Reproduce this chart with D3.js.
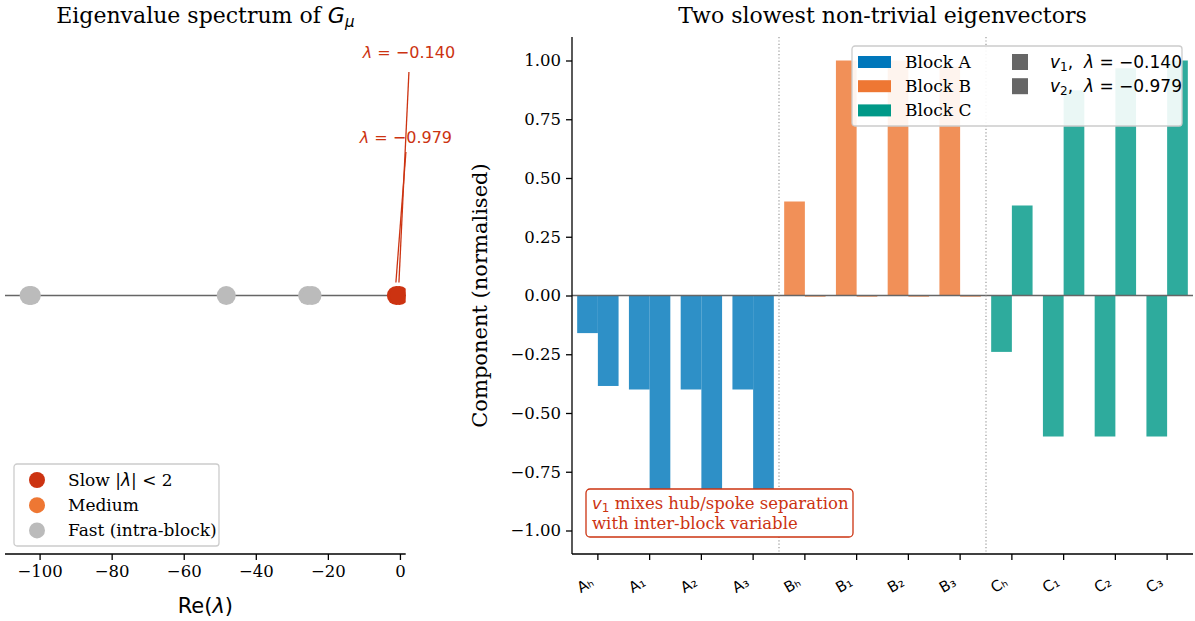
<!DOCTYPE html>
<html>
<head>
<meta charset="utf-8">
<script src="https://cdn.jsdelivr.net/npm/d3@7"></script>
<style>
  body { margin: 0; background: #fff; }
  svg { display: block; }
  .serif { font-family: "DejaVu Serif", serif; }
  .sans { font-family: "DejaVu Sans", sans-serif; }
</style>
</head>
<body>
<script>
// eigenvalues (real parts)
const fastEig = [-102.9, -102.3, -48.2, -25.6, -24.4];
const mediumEig = [];
const slowEig = [-0.979, -0.140];

// eigenvector components
const nodes = ["Aₕ", "A₁", "A₂", "A₃", "Bₕ", "B₁", "B₂", "B₃", "Cₕ", "C₁", "C₂", "C₃"];
const nodeBlock = ["A", "A", "A", "A", "B", "B", "B", "B", "C", "C", "C", "C"];
const v1 = [-0.16, -0.40, -0.40, -0.40, 0.40, 1.00, 1.00, 0.975, -0.24, -0.60, -0.60, -0.60];
const v2 = [-0.385, -0.87, -0.97, -1.00, -0.005, -0.005, -0.005, -0.005, 0.383, 0.873, 0.967, 1.00];
const blocks = ["A", "B", "C"];
const blockColors = ["#0077bb", "#ee7733", "#009988"];
const yTicks = [-1.00, -0.75, -0.50, -0.25, 0.00, 0.25, 0.50, 0.75, 1.00];
const xTicksL = [-100, -80, -60, -40, -20, 0];

const width = 1195;
const height = 621;
const minus = s => s.replace(/-/g, "\u2212");
const red = "#cc3311";
const tickFont = 16.5;
const legFont = 17;

const svg = d3.select("body").append("svg")
  .attr("width", width)
  .attr("height", height);

// ---------- left panel: spectrum ----------
const L = { left: 5, right: 405.7, top: 37, bottom: 554 };
const xL = d3.scaleLinear().domain([-109.6, 1.6]).range([L.left, L.right]);
const yL = d3.scaleLinear().domain([-1, 1]).range([L.bottom, L.top]);

svg.append("defs").append("clipPath").attr("id", "clipL")
  .append("rect")
  .attr("x", L.left).attr("y", L.top)
  .attr("width", L.right - L.left).attr("height", L.bottom - L.top);

svg.append("text").attr("class", "serif")
  .attr("x", (L.left + L.right) / 2).attr("y", 23)
  .attr("text-anchor", "middle").attr("font-size", 22)
  .html('Eigenvalue spectrum of <tspan font-family="DejaVu Sans" font-style="italic">G</tspan><tspan font-family="DejaVu Sans" font-style="italic" font-size="15" dy="4">μ</tspan>');

// baseline
svg.append("line")
  .attr("x1", L.left).attr("x2", L.right)
  .attr("y1", yL(0)).attr("y2", yL(0))
  .attr("stroke", "#666").attr("stroke-width", 1.3);

const gPts = svg.append("g").attr("clip-path", "url(#clipL)");
gPts.selectAll(".fast").data(fastEig).join("circle")
  .attr("cx", d => xL(d)).attr("cy", yL(0)).attr("r", 9.5)
  .attr("fill", "#bbbbbb");
gPts.selectAll(".med").data(mediumEig).join("circle")
  .attr("cx", d => xL(d)).attr("cy", yL(0)).attr("r", 9.5)
  .attr("fill", "#ee7733");
gPts.selectAll(".slow").data(slowEig).join("circle")
  .attr("cx", d => xL(d)).attr("cy", yL(0)).attr("r", 9.5)
  .attr("fill", red);

// annotations for slow modes
const annY = [143, 58];
slowEig.forEach((d, i) => {
  const tx = xL(d) + 9.5;
  const ty = annY[i];
  svg.append("line")
    .attr("x1", tx).attr("y1", ty + (i === 1 ? 14 : 9))
    .attr("x2", xL(d) - 0.5).attr("y2", yL(0) - 13)
    .attr("stroke", red).attr("stroke-width", 1.3);
  svg.append("text").attr("class", "sans")
    .attr("x", tx).attr("y", ty)
    .attr("text-anchor", "middle").attr("font-size", 16)
    .attr("fill", red)
    .html('<tspan font-style="italic">λ</tspan> = ' + minus(d.toFixed(3)));
});

// x axis
const axL = svg.append("g")
  .attr("transform", `translate(0,${L.bottom})`)
  .call(d3.axisBottom(xL).tickValues(xTicksL).tickSize(6).tickPadding(5)
    .tickFormat(d => minus(String(d))));
axL.select(".domain").attr("stroke", "#000").attr("stroke-width", 1.3).attr("d", `M${L.left},0H${L.right}`);
axL.selectAll(".tick line").attr("stroke-width", 1.3);
axL.selectAll(".tick text").attr("class", "serif").attr("font-size", tickFont).attr("fill", "#000");

svg.append("text").attr("class", "sans")
  .attr("x", (L.left + L.right) / 2).attr("y", 613)
  .attr("text-anchor", "middle").attr("font-size", 21)
  .html('Re(<tspan font-style="italic">λ</tspan>)');

// left legend
const legL = svg.append("g").attr("transform", "translate(14,464)");
legL.append("rect").attr("width", 205).attr("height", 82).attr("rx", 3)
  .attr("fill", "#fff").attr("fill-opacity", 0.9)
  .attr("stroke", "#cccccc").attr("stroke-width", 1.3);
const legLItems = [
  { c: red, t: 'Slow |<tspan font-family="DejaVu Sans" font-style="italic">λ</tspan>| &lt; 2' },
  { c: "#ee7733", t: "Medium" },
  { c: "#bbbbbb", t: "Fast (intra-block)" }
];
legLItems.forEach((d, i) => {
  const cy = 16 + i * 25.2;
  legL.append("circle").attr("cx", 23).attr("cy", cy).attr("r", 8).attr("fill", d.c);
  legL.append("text").attr("class", "serif")
    .attr("x", 54).attr("y", cy + 5.5).attr("font-size", legFont).html(d.t);
});

// ---------- right panel: eigenvectors ----------
const R = { left: 572, right: 1193, top: 37, bottom: 554 };
const xR = d3.scaleBand().domain(nodes).range([R.left, R.right]).padding(0);
const yR = d3.scaleLinear().domain([-1.1, 1.1]).range([R.bottom, R.top]);
const color = d3.scaleOrdinal().domain(blocks).range(blockColors);
const barW = xR.bandwidth() * 0.4;

svg.append("text").attr("class", "serif")
  .attr("x", (R.left + R.right) / 2).attr("y", 23)
  .attr("text-anchor", "middle").attr("font-size", 22)
  .text("Two slowest non-trivial eigenvectors");

const series = [v1, v2];
series.forEach((vals, s) => {
  svg.append("g").selectAll("rect").data(vals).join("rect")
    .attr("x", (d, i) => xR(nodes[i]) + xR.bandwidth() / 2 + (s - 1) * barW)
    .attr("width", barW)
    .attr("y", d => yR(Math.max(0, d)))
    .attr("height", d => Math.abs(yR(d) - yR(0)))
    .attr("fill", (d, i) => color(nodeBlock[i]))
    .attr("fill-opacity", 0.82);
});

// zero line
svg.append("line")
  .attr("x1", R.left).attr("x2", R.right)
  .attr("y1", yR(0)).attr("y2", yR(0))
  .attr("stroke", "#666").attr("stroke-width", 1.3);

// block separators
[3.5, 7.5].forEach(p => {
  const x = R.left + p * xR.step() + xR.step() / 2;
  svg.append("line")
    .attr("x1", x).attr("x2", x).attr("y1", R.top).attr("y2", R.bottom)
    .attr("stroke", "#999").attr("stroke-width", 1.2)
    .attr("stroke-dasharray", "1.2,2.2");
});

// axes
const ayR = svg.append("g")
  .attr("transform", `translate(${R.left},0)`)
  .call(d3.axisLeft(yR).tickValues(yTicks).tickSize(6).tickPadding(5)
    .tickFormat(d => minus(d.toFixed(2))));
ayR.select(".domain").attr("stroke-width", 1.3).attr("d", `M0,${R.top}V${R.bottom}`);
ayR.selectAll(".tick line").attr("stroke-width", 1.3);
ayR.selectAll(".tick text").attr("class", "serif").attr("font-size", tickFont).attr("fill", "#000");

const axR = svg.append("g")
  .attr("transform", `translate(0,${R.bottom})`)
  .call(d3.axisBottom(xR).tickSize(6));
axR.select(".domain").attr("stroke-width", 1.3).attr("d", `M${R.left},0H${R.right}`);
axR.selectAll(".tick line").attr("stroke-width", 1.3);
axR.selectAll(".tick text").attr("class", "sans").attr("font-size", 15).attr("fill", "#000")
  .attr("text-anchor", "end")
  .attr("x", 0).attr("y", 0).attr("dy", 0)
  .attr("transform", "translate(-3,31) rotate(-30)");

svg.append("text").attr("class", "serif")
  .attr("transform", `translate(487,${(R.top + R.bottom) / 2}) rotate(-90)`)
  .attr("text-anchor", "middle").attr("font-size", 21)
  .text("Component (normalised)");

// right legend
const legR = svg.append("g").attr("transform", "translate(852,46)");
legR.append("rect").attr("width", 330).attr("height", 80).attr("rx", 3)
  .attr("fill", "#fff").attr("fill-opacity", 0.9)
  .attr("stroke", "#cccccc").attr("stroke-width", 1.3);
blocks.forEach((b, i) => {
  const cy = 16 + i * 24.2;
  legR.append("rect").attr("x", 6).attr("y", cy - 6).attr("width", 33).attr("height", 12)
    .attr("fill", color(b));
  legR.append("text").attr("class", "serif")
    .attr("x", 53).attr("y", cy + 5.5).attr("font-size", legFont)
    .text("Block " + b);
});
slowEig.slice().reverse().forEach((d, i) => {
  const cy = 16 + i * 24.2;
  legR.append("rect").attr("x", 160).attr("y", cy - 8).attr("width", 16).attr("height", 16)
    .attr("fill", "#666");
  legR.append("text").attr("class", "sans")
    .attr("x", 198).attr("y", cy + 5.5).attr("font-size", legFont)
    .html(`<tspan font-style="italic">v</tspan><tspan font-size="12" dy="3">${i + 1}</tspan><tspan dy="-3">,\u00a0\u00a0</tspan><tspan font-style="italic">λ</tspan> = ${minus(d.toFixed(3))}`);
});

// annotation box
const note = svg.append("g").attr("transform", "translate(586,489)");
note.append("rect").attr("width", 267).attr("height", 48).attr("rx", 4)
  .attr("fill", "#fff").attr("stroke", red).attr("stroke-width", 1.3);
note.append("text").attr("class", "serif")
  .attr("x", 6).attr("y", 19.5).attr("font-size", 16.5).attr("fill", red)
  .html('<tspan font-family="DejaVu Sans" font-style="italic">v</tspan><tspan font-family="DejaVu Sans" font-size="12" dy="3">1</tspan><tspan dy="-3"> mixes hub/spoke separation</tspan>');
note.append("text").attr("class", "serif")
  .attr("x", 6).attr("y", 40).attr("font-size", 16.5).attr("fill", red)
  .text("with inter-block variable");
</script>
</body>
</html>
